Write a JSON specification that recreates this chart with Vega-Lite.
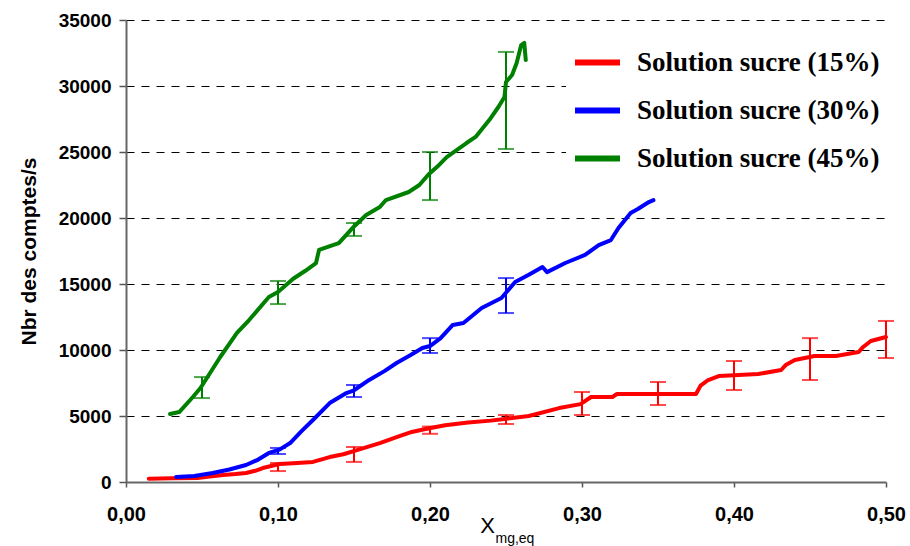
{
  "$schema": "https://vega.github.io/schema/vega-lite/v6.json",
  "width": 760,
  "height": 462,
  "autosize": "none",
  "padding": {"left": 126, "top": 20, "right": 24, "bottom": 64},
  "background": "white",
  "config": {
    "view": {"stroke": null},
    "font": "Liberation Sans"
  },
  "datasets": {
    "curves": [
      {"s": " Solution sucre (15%)", "x": 0.015, "y": 250},
      {"s": " Solution sucre (15%)", "x": 0.03, "y": 280},
      {"s": " Solution sucre (15%)", "x": 0.047, "y": 300},
      {"s": " Solution sucre (15%)", "x": 0.055, "y": 420},
      {"s": " Solution sucre (15%)", "x": 0.064, "y": 530},
      {"s": " Solution sucre (15%)", "x": 0.072, "y": 600},
      {"s": " Solution sucre (15%)", "x": 0.079, "y": 680},
      {"s": " Solution sucre (15%)", "x": 0.085, "y": 850},
      {"s": " Solution sucre (15%)", "x": 0.09, "y": 1060},
      {"s": " Solution sucre (15%)", "x": 0.101, "y": 1360},
      {"s": " Solution sucre (15%)", "x": 0.11, "y": 1420},
      {"s": " Solution sucre (15%)", "x": 0.123, "y": 1520},
      {"s": " Solution sucre (15%)", "x": 0.134, "y": 1890},
      {"s": " Solution sucre (15%)", "x": 0.143, "y": 2100},
      {"s": " Solution sucre (15%)", "x": 0.152, "y": 2420},
      {"s": " Solution sucre (15%)", "x": 0.16, "y": 2700},
      {"s": " Solution sucre (15%)", "x": 0.167, "y": 2950},
      {"s": " Solution sucre (15%)", "x": 0.178, "y": 3400},
      {"s": " Solution sucre (15%)", "x": 0.188, "y": 3790},
      {"s": " Solution sucre (15%)", "x": 0.197, "y": 4015},
      {"s": " Solution sucre (15%)", "x": 0.21, "y": 4300},
      {"s": " Solution sucre (15%)", "x": 0.225, "y": 4500},
      {"s": " Solution sucre (15%)", "x": 0.24, "y": 4650},
      {"s": " Solution sucre (15%)", "x": 0.249, "y": 4770},
      {"s": " Solution sucre (15%)", "x": 0.265, "y": 5000},
      {"s": " Solution sucre (15%)", "x": 0.285, "y": 5600},
      {"s": " Solution sucre (15%)", "x": 0.299, "y": 5900},
      {"s": " Solution sucre (15%)", "x": 0.306, "y": 6440},
      {"s": " Solution sucre (15%)", "x": 0.32, "y": 6440},
      {"s": " Solution sucre (15%)", "x": 0.323, "y": 6667},
      {"s": " Solution sucre (15%)", "x": 0.375, "y": 6667},
      {"s": " Solution sucre (15%)", "x": 0.378, "y": 7300},
      {"s": " Solution sucre (15%)", "x": 0.383, "y": 7727},
      {"s": " Solution sucre (15%)", "x": 0.39, "y": 8030},
      {"s": " Solution sucre (15%)", "x": 0.416, "y": 8180},
      {"s": " Solution sucre (15%)", "x": 0.431, "y": 8485},
      {"s": " Solution sucre (15%)", "x": 0.434, "y": 8860},
      {"s": " Solution sucre (15%)", "x": 0.44, "y": 9240},
      {"s": " Solution sucre (15%)", "x": 0.453, "y": 9545},
      {"s": " Solution sucre (15%)", "x": 0.467, "y": 9545},
      {"s": " Solution sucre (15%)", "x": 0.482, "y": 9850},
      {"s": " Solution sucre (15%)", "x": 0.485, "y": 10230},
      {"s": " Solution sucre (15%)", "x": 0.49, "y": 10680},
      {"s": " Solution sucre (15%)", "x": 0.5, "y": 10985},

      {"s": "Solution sucre (30%)", "x": 0.033, "y": 380},
      {"s": "Solution sucre (30%)", "x": 0.045, "y": 450},
      {"s": "Solution sucre (30%)", "x": 0.057, "y": 680},
      {"s": "Solution sucre (30%)", "x": 0.068, "y": 950},
      {"s": "Solution sucre (30%)", "x": 0.079, "y": 1290},
      {"s": "Solution sucre (30%)", "x": 0.087, "y": 1700},
      {"s": "Solution sucre (30%)", "x": 0.094, "y": 2200},
      {"s": "Solution sucre (30%)", "x": 0.101, "y": 2450},
      {"s": "Solution sucre (30%)", "x": 0.108, "y": 2950},
      {"s": "Solution sucre (30%)", "x": 0.115, "y": 3800},
      {"s": "Solution sucre (30%)", "x": 0.123, "y": 4700},
      {"s": "Solution sucre (30%)", "x": 0.134, "y": 5980},
      {"s": "Solution sucre (30%)", "x": 0.145, "y": 6740},
      {"s": "Solution sucre (30%)", "x": 0.15, "y": 6950},
      {"s": "Solution sucre (30%)", "x": 0.16, "y": 7730},
      {"s": "Solution sucre (30%)", "x": 0.17, "y": 8400},
      {"s": "Solution sucre (30%)", "x": 0.178, "y": 9015},
      {"s": "Solution sucre (30%)", "x": 0.187, "y": 9600},
      {"s": "Solution sucre (30%)", "x": 0.195, "y": 10150},
      {"s": "Solution sucre (30%)", "x": 0.2, "y": 10300},
      {"s": "Solution sucre (30%)", "x": 0.207, "y": 10900},
      {"s": "Solution sucre (30%)", "x": 0.215, "y": 11900},
      {"s": "Solution sucre (30%)", "x": 0.222, "y": 12050},
      {"s": "Solution sucre (30%)", "x": 0.234, "y": 13180},
      {"s": "Solution sucre (30%)", "x": 0.247, "y": 13940},
      {"s": "Solution sucre (30%)", "x": 0.256, "y": 15150},
      {"s": "Solution sucre (30%)", "x": 0.265, "y": 15700},
      {"s": "Solution sucre (30%)", "x": 0.274, "y": 16290},
      {"s": "Solution sucre (30%)", "x": 0.277, "y": 15900},
      {"s": "Solution sucre (30%)", "x": 0.289, "y": 16590},
      {"s": "Solution sucre (30%)", "x": 0.302, "y": 17200},
      {"s": "Solution sucre (30%)", "x": 0.311, "y": 17950},
      {"s": "Solution sucre (30%)", "x": 0.319, "y": 18330},
      {"s": "Solution sucre (30%)", "x": 0.324, "y": 19240},
      {"s": "Solution sucre (30%)", "x": 0.332, "y": 20380},
      {"s": "Solution sucre (30%)", "x": 0.337, "y": 20700},
      {"s": "Solution sucre (30%)", "x": 0.344, "y": 21210},
      {"s": "Solution sucre (30%)", "x": 0.347, "y": 21350},

      {"s": "Solution sucre (45%)", "x": 0.029, "y": 5150},
      {"s": "Solution sucre (45%)", "x": 0.035, "y": 5300},
      {"s": "Solution sucre (45%)", "x": 0.044, "y": 6440},
      {"s": "Solution sucre (45%)", "x": 0.049, "y": 7120},
      {"s": "Solution sucre (45%)", "x": 0.055, "y": 8200},
      {"s": "Solution sucre (45%)", "x": 0.062, "y": 9470},
      {"s": "Solution sucre (45%)", "x": 0.073, "y": 11290},
      {"s": "Solution sucre (45%)", "x": 0.081, "y": 12270},
      {"s": "Solution sucre (45%)", "x": 0.094, "y": 14020},
      {"s": "Solution sucre (45%)", "x": 0.1, "y": 14400},
      {"s": "Solution sucre (45%)", "x": 0.11, "y": 15400},
      {"s": "Solution sucre (45%)", "x": 0.118, "y": 16000},
      {"s": "Solution sucre (45%)", "x": 0.125, "y": 16590},
      {"s": "Solution sucre (45%)", "x": 0.127, "y": 17580},
      {"s": "Solution sucre (45%)", "x": 0.14, "y": 18100},
      {"s": "Solution sucre (45%)", "x": 0.149, "y": 19240},
      {"s": "Solution sucre (45%)", "x": 0.158, "y": 20230},
      {"s": "Solution sucre (45%)", "x": 0.167, "y": 20830},
      {"s": "Solution sucre (45%)", "x": 0.171, "y": 21360},
      {"s": "Solution sucre (45%)", "x": 0.186, "y": 21970},
      {"s": "Solution sucre (45%)", "x": 0.193, "y": 22500},
      {"s": "Solution sucre (45%)", "x": 0.199, "y": 23300},
      {"s": "Solution sucre (45%)", "x": 0.206, "y": 24020},
      {"s": "Solution sucre (45%)", "x": 0.211, "y": 24620},
      {"s": "Solution sucre (45%)", "x": 0.224, "y": 25680},
      {"s": "Solution sucre (45%)", "x": 0.23, "y": 26140},
      {"s": "Solution sucre (45%)", "x": 0.239, "y": 27420},
      {"s": "Solution sucre (45%)", "x": 0.245, "y": 28410},
      {"s": "Solution sucre (45%)", "x": 0.249, "y": 29170},
      {"s": "Solution sucre (45%)", "x": 0.25, "y": 30300},
      {"s": "Solution sucre (45%)", "x": 0.254, "y": 30830},
      {"s": "Solution sucre (45%)", "x": 0.257, "y": 31740},
      {"s": "Solution sucre (45%)", "x": 0.26, "y": 33100},
      {"s": "Solution sucre (45%)", "x": 0.262, "y": 33260},
      {"s": "Solution sucre (45%)", "x": 0.263, "y": 31970}
    ],
    "bars": [
      {"s": " Solution sucre (15%)", "x": 0.1, "lo": 830, "hi": 1440},
      {"s": " Solution sucre (15%)", "x": 0.15, "lo": 1520, "hi": 2650},
      {"s": " Solution sucre (15%)", "x": 0.2, "lo": 3650, "hi": 4200},
      {"s": " Solution sucre (15%)", "x": 0.25, "lo": 4394, "hi": 5076},
      {"s": " Solution sucre (15%)", "x": 0.3, "lo": 5076, "hi": 6818},
      {"s": " Solution sucre (15%)", "x": 0.35, "lo": 5833, "hi": 7576},
      {"s": " Solution sucre (15%)", "x": 0.4, "lo": 6970, "hi": 9167},
      {"s": " Solution sucre (15%)", "x": 0.45, "lo": 7727, "hi": 10900},
      {"s": " Solution sucre (15%)", "x": 0.5, "lo": 9394, "hi": 12200},
      {"s": "Solution sucre (30%)", "x": 0.1, "lo": 2120, "hi": 2580},
      {"s": "Solution sucre (30%)", "x": 0.15, "lo": 6440, "hi": 7350},
      {"s": "Solution sucre (30%)", "x": 0.2, "lo": 9773, "hi": 10900},
      {"s": "Solution sucre (30%)", "x": 0.25, "lo": 12800, "hi": 15450},
      {"s": "Solution sucre (45%)", "x": 0.05, "lo": 6360, "hi": 7950},
      {"s": "Solution sucre (45%)", "x": 0.1, "lo": 13480, "hi": 15230},
      {"s": "Solution sucre (45%)", "x": 0.15, "lo": 18640, "hi": 19620},
      {"s": "Solution sucre (45%)", "x": 0.2, "lo": 21360, "hi": 25000},
      {"s": "Solution sucre (45%)", "x": 0.25, "lo": 25230, "hi": 32580}
    ]
  },
  "layer": [
    {
      "data": {"name": "curves"},
      "mark": {"type": "line", "strokeWidth": 4, "strokeCap": "round", "strokeJoin": "round"},
      "encoding": {
        "x": {
          "field": "x", "type": "quantitative",
          "scale": {"domain": [0, 0.5], "nice": false, "zero": false},
          "axis": {
            "values": [0, 0.1, 0.2, 0.3, 0.4, 0.5],
            "labelExpr": "replace(format(datum.value, '.2f'), '.', ',')",
            "labelFlush": false, "labelOverlap": false,
            "labelFont": "Liberation Sans", "labelFontWeight": "bold", "labelFontSize": 20, "labelColor": "black",
            "labelPadding": 17, "tickSize": 5, "tickColor": "#555555", "tickWidth": 1.5,
            "domainColor": "#666666", "domainWidth": 2, "grid": false,
            "title": "X", "titleFont": "Liberation Sans", "titleFontSize": 22, "titleFontWeight": "normal", "titleColor": "black",
            "titleX": 361, "titleY": 50, "titleAlign": "center", "titleBaseline": "alphabetic"
          }
        },
        "y": {
          "field": "y", "type": "quantitative",
          "scale": {"domain": [0, 35000], "nice": false},
          "axis": {
            "values": [0, 5000, 10000, 15000, 20000, 25000, 30000, 35000],
            "format": "d",
            "labelFont": "Liberation Sans", "labelFontWeight": "bold", "labelFontSize": 19, "labelColor": "black",
            "labelPadding": 8, "tickSize": 7, "tickColor": "#555555", "tickWidth": 1.5,
            "domainColor": "#666666", "domainWidth": 2,
            "grid": true, "gridColor": "black", "gridDash": [8, 7], "gridWidth": 1,
            "title": "Nbr des comptes/s", "titleFont": "Liberation Sans", "titleFontSize": 21, "titleFontWeight": "bold", "titleColor": "black",
            "titlePadding": 19
          }
        },
        "color": {
          "field": "s", "type": "nominal",
          "scale": {
            "domain": [" Solution sucre (15%)", "Solution sucre (30%)", "Solution sucre (45%)"],
            "range": ["#ff0000", "#0000ff", "#008000"]
          },
          "legend": {
            "title": null, "orient": "none", "legendX": 440, "legendY": 11,
            "fillColor": "white", "padding": 6,
            "symbolType": "stroke", "symbolSize": 2025, "symbolStrokeWidth": 6,
            "labelFont": "Liberation Serif", "labelFontWeight": "bold", "labelFontSize": 27, "labelColor": "black",
            "labelOffset": 14, "rowPadding": 9, "labelLimit": 400
          }
        }
      }
    },
    {
      "data": {"name": "bars"},
      "mark": {"type": "errorbar", "ticks": {"size": 16, "thickness": 2}, "thickness": 2},
      "encoding": {
        "x": {"field": "x", "type": "quantitative", "axis": null},
        "y": {"field": "lo", "type": "quantitative", "axis": {"title": "Nbr des comptes/s"}},
        "y2": {"field": "hi"},
        "color": {"field": "s", "type": "nominal", "legend": null}
      }
    },
    {
      "data": {"values": [{"x": 0.25}]},
      "mark": {"type": "point", "opacity": 0},
      "encoding": {
        "x": {
          "field": "x", "type": "quantitative",
          "axis": {
            "orient": "bottom", "labels": false, "ticks": false, "domain": false, "grid": false,
            "title": "mg,eq", "titleFont": "Liberation Sans", "titleFontSize": 14, "titleFontWeight": "normal", "titleColor": "black",
            "titleX": 369, "titleY": 60, "titleAlign": "left", "titleBaseline": "alphabetic"
          }
        }
      }
    }
  ],
  "resolve": {"axis": {"x": "independent"}}
}
